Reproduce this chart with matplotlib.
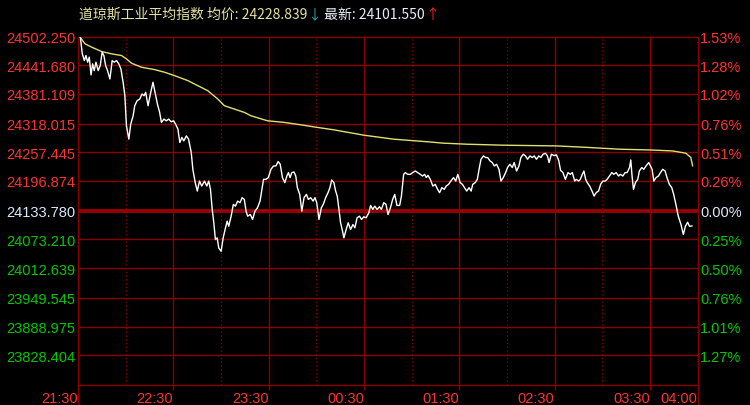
import numpy as np
import matplotlib
matplotlib.use('Agg')
import matplotlib.pyplot as plt

# ---------------- data ----------------
prev_close = 24133.780
avg_last = 24228.839
last_price = 24101.550

# minutes after 21:30
minutes = [1.5, 2.7, 4.0, 5.0, 6.1, 7.1, 8.2, 9.2, 10.2, 11.3, 12.7, 14.0, 15.2, 16.3, 17.4, 18.6,
           20.1, 21.5, 22.8, 24.3, 25.7, 27.0, 28.4, 29.5, 30.5, 32.0, 33.2, 34.7, 35.7, 37.2, 38.9,
           40.3, 41.6, 42.6, 44.1, 45.8, 47.2, 48.3, 50.0, 51.4, 52.5, 54.1, 55.6, 57.1, 58.7, 60.2,
           61.4, 62.9, 64.1, 65.4, 66.6, 68.2, 69.6, 71.3, 72.3, 73.8, 75.1, 76.5, 77.9, 79.6, 81.1,
           82.3, 83.4, 84.5, 85.5, 86.5, 87.6, 88.6, 90.1, 91.4, 92.6, 93.9, 94.9, 96.4, 97.8, 99.1,
           100.5, 102.0, 103.3, 104.7, 105.8, 106.8, 108.5, 109.9, 111.4, 113.0, 114.6, 115.6, 116.8,
           118.3, 119.8, 121.5, 123.1, 124.6, 126.0, 127.3, 128.7, 130.2, 131.5, 132.5, 133.5, 134.6,
           136.0, 137.1, 138.1, 139.6, 140.9, 142.3, 143.8, 145.0, 146.5, 148.0, 149.2, 150.3, 151.7,
           153.2, 154.4, 155.9, 157.4, 158.6, 159.7, 161.1, 162.2, 163.2, 164.3, 165.3, 166.3, 167.4,
           168.8, 170.1, 171.6, 173.1, 174.3, 175.7, 177.2, 178.5, 179.9, 181.4, 183.1, 184.2, 185.6,
           186.8, 188.3, 189.8, 191.0, 192.5, 193.9, 195.2, 196.7, 198.1, 199.4, 200.8, 202.5, 203.6,
           205.0, 206.1, 207.5, 209.2, 210.7, 212.4, 213.8, 215.5, 216.9, 218.2, 219.3, 220.3, 221.8,
           223.4, 224.9, 226.4, 227.6, 229.1, 230.6, 231.8, 233.3, 234.7, 236.4, 237.8, 239.1, 240.6,
           242.0, 243.3, 244.7, 246.2, 247.5, 248.5, 250.0, 251.4, 252.7, 253.7, 255.2, 256.6, 257.9,
           259.4, 260.8, 262.1, 263.5, 265.0, 266.3, 267.7, 269.2, 270.4, 271.9, 273.4, 274.6, 276.1,
           277.6, 278.8, 280.3, 281.7, 283.0, 284.5, 285.9, 287.2, 288.6, 290.1, 291.4, 292.8, 294.3,
           295.5, 296.6, 298.0, 299.7, 301.2, 302.6, 303.8, 305.3, 306.8, 308.5, 309.9, 311.2, 312.7,
           313.7, 315.2, 316.2, 317.5, 318.5, 319.6, 320.6, 322.1, 323.6, 324.9, 326.2, 327.7, 329.0,
           330.4, 331.9, 333.1, 334.6, 336.1, 337.3, 338.8, 340.3, 341.5, 343.0, 344.4, 345.7, 347.2,
           348.0, 348.8, 349.7, 350.9, 352.4, 353.4, 354.9, 356.2, 357.6, 359.3, 360.4, 361.4, 362.5,
           363.9, 365.4, 366.7, 368.1, 369.6, 370.8, 372.3, 373.8, 375.0, 376.4, 377.9, 379.6, 381.1,
           382.4, 383.8, 384.9, 386.5]

price = [24500.0, 24465.6, 24451.3, 24462.0, 24447.9, 24458.6, 24421.0, 24444.3, 24430.1, 24447.9,
         24430.1, 24440.7, 24469.2, 24462.0, 24440.7, 24430.1, 24412.5, 24451.3, 24447.9, 24451.3,
         24444.3, 24433.7, 24405.5, 24377.0, 24313.4, 24285.1, 24317.0, 24334.6, 24355.8, 24366.4,
         24370.0, 24380.7, 24377.0, 24384.3, 24355.8, 24384.3, 24405.5, 24387.7, 24359.4, 24341.8,
         24320.6, 24327.6, 24324.0, 24327.6, 24321.9, 24324.0, 24317.0, 24306.4, 24278.1, 24288.8,
         24281.5, 24292.1, 24285.1, 24256.9, 24221.5, 24193.2, 24175.4, 24196.6, 24186.0, 24196.6,
         24186.0, 24196.6, 24179.0, 24136.5, 24108.3, 24072.9, 24076.5, 24055.3, 24048.0, 24076.5,
         24094.1, 24111.7, 24101.1, 24122.3, 24147.2, 24143.6, 24154.2, 24150.8, 24161.4, 24157.8,
         24132.9, 24122.3, 24125.9, 24115.3, 24132.9, 24140.2, 24154.2, 24175.4, 24200.2, 24200.2,
         24203.8, 24221.5, 24228.5, 24228.5, 24237.8, 24232.1, 24203.8, 24193.2, 24207.2, 24214.5,
         24203.8, 24214.5, 24215.7, 24207.2, 24182.6, 24168.4, 24132.9, 24161.4, 24168.4, 24157.8,
         24161.4, 24154.2, 24161.4, 24150.8, 24115.3, 24140.2, 24147.2, 24161.4, 24172.0, 24182.6,
         24198.8, 24193.2, 24175.4, 24164.8, 24136.5, 24108.3, 24094.1, 24076.5, 24094.1, 24108.3,
         24094.1, 24104.7, 24097.7, 24118.9, 24122.3, 24115.3, 24121.0, 24118.9, 24129.5, 24145.0,
         24136.5, 24143.6, 24136.5, 24142.3, 24136.5, 24150.8, 24147.2, 24125.9, 24140.2, 24157.8,
         24168.4, 24145.0, 24145.0, 24164.8, 24210.8, 24214.5, 24210.8, 24210.8, 24214.5, 24217.8,
         24214.5, 24210.8, 24207.2, 24210.8, 24203.8, 24208.7, 24200.2, 24186.0, 24189.6, 24179.0,
         24172.0, 24182.6, 24179.0, 24186.0, 24189.6, 24196.6, 24203.8, 24196.6, 24210.8, 24193.2,
         24189.6, 24182.6, 24175.4, 24182.6, 24175.4, 24189.6, 24193.2, 24200.2, 24225.1, 24242.7,
         24249.7, 24246.3, 24246.3, 24239.1, 24235.7, 24228.5, 24232.1, 24221.5, 24196.6, 24203.8,
         24214.5, 24225.1, 24232.1, 24225.1, 24235.7, 24217.8, 24228.5, 24246.3, 24253.3, 24249.7,
         24242.7, 24249.7, 24246.3, 24249.7, 24242.7, 24249.7, 24246.3, 24253.3, 24255.4, 24249.7,
         24235.7, 24253.3, 24250.4, 24252.0, 24240.3, 24219.3, 24214.5, 24200.2, 24214.5, 24210.8,
         24214.5, 24196.6, 24200.2, 24196.6, 24200.2, 24210.8, 24217.8, 24200.2, 24193.2, 24186.0,
         24175.4, 24164.8, 24172.0, 24175.4, 24189.6, 24196.6, 24196.6, 24200.2, 24207.2, 24214.5,
         24210.8, 24214.5, 24207.2, 24210.8, 24207.2, 24214.5, 24214.5, 24225.1, 24241.2, 24207.2,
         24179.0, 24193.2, 24200.2, 24217.8, 24225.1, 24221.5, 24228.5, 24235.7, 24228.5, 24221.5,
         24196.6, 24203.8, 24207.2, 24214.5, 24221.5, 24217.8, 24203.8, 24189.6, 24182.6, 24168.4,
         24147.2, 24122.3, 24104.7, 24083.5, 24101.1, 24109.6, 24101.1, 24101.55]

avg_minutes = [1.5, 4.4, 8.6, 14.9, 21.1, 27.4, 30.5, 33.7, 39.9, 48.3, 54.5, 60.8, 69.2, 75.4,
               81.7, 88.0, 92.2, 98.4, 104.7, 108.9, 119.3, 129.8, 140.3, 150.7, 161.1, 179.9,
               198.8, 217.6, 230.1, 244.7, 267.7, 301.2, 322.1, 340.9, 359.7, 374.3, 382.7,
               385.8, 386.9]
avg_price = [24500.0, 24486.8, 24479.8, 24470.4, 24465.6, 24462.0, 24454.9, 24445.8, 24437.3,
             24432.2, 24426.7, 24419.5, 24408.9, 24398.3, 24387.7, 24370.0, 24355.8, 24348.8,
             24341.8, 24334.6, 24324.0, 24320.6, 24315.5, 24310.0, 24304.9, 24293.6, 24285.1,
             24280.3, 24276.7, 24274.5, 24272.4, 24270.9, 24267.5, 24263.9, 24262.4, 24260.3,
             24255.4, 24246.3, 24228.8]

price_ticks = [24502.250, 24441.680, 24381.109, 24318.015, 24257.445, 24196.874, 24133.780,
               24073.210, 24012.639, 23949.545, 23888.975, 23828.404]
y_bottom = 23765.310

time_ticks = [0, 60, 120, 180, 240, 300, 360, 390]
time_labels = ['21:30', '22:30', '23:30', '00:30', '01:30', '02:30', '03:30', '04:00']
half_hours = [30, 90, 150, 210, 270, 330]

# ---------------- style ----------------
grid_red = '#8a0000'
up_red = '#ff3232'
down_green = '#00c800'
flat_white = '#dce8ff'
num_font = 'Liberation Sans'
cjk = ['Noto Sans CJK SC', 'DejaVu Sans']

fig = plt.figure(figsize=(7.5, 4.06), dpi=100, facecolor='black')
ax = fig.add_axes([78 / 750, 20 / 406, 619.5 / 750, 348.5 / 406])
ax.set_facecolor('black')
ax.set_xlim(0, 390)
ax.set_ylim(y_bottom, price_ticks[0])

for s in ax.spines.values():
    s.set_color(grid_red)
    s.set_linewidth(1.0)

# grid
for p in price_ticks[1:]:
    if p == prev_close:
        ax.axhline(p, color='#960000', lw=2.8, zorder=1)
    else:
        ax.axhline(p, color=grid_red, lw=1.0, zorder=1)
for t in time_ticks[1:-1]:
    ax.axvline(t, color=grid_red, lw=1.0, zorder=1)
for t in half_hours:
    ax.axvline(t, color=grid_red, lw=0.9, ls=(0, (1, 2)), zorder=1)

# side lines run down to the bottom edge
ax.plot([0, 0], [-20 / 348.5, 0], transform=ax.transAxes, color=grid_red, lw=1.0, clip_on=False)
ax.plot([1, 1], [-20 / 348.5, 0], transform=ax.transAxes, color=grid_red, lw=1.0, clip_on=False)

# lines
ax.plot(avg_minutes, avg_price, color='#e0e070', lw=1.0, zorder=3)
ax.plot(minutes, price, color='white', lw=1.0, zorder=4)

# left axis
ax.set_yticks(price_ticks)
ax.set_yticklabels(['%.3f' % p for p in price_ticks], fontfamily=num_font, fontsize=10.5)
ax.tick_params(axis='y', length=0, pad=2)


def level_color(p):
    if abs(p - prev_close) < 1e-6:
        return flat_white
    return up_red if p > prev_close else down_green


for lbl, p in zip(ax.get_yticklabels(), price_ticks):
    lbl.set_color(level_color(p))

# right axis: percent change
ax2 = ax.twinx()
ax2.set_ylim(ax.get_ylim())
ax2.set_yticks(price_ticks)
pct = ['%.2f%%' % (abs(p - prev_close) / prev_close * 100) for p in price_ticks]
ax2.set_yticklabels(pct, fontfamily=num_font, fontsize=10.5)
ax2.tick_params(axis='y', length=0, pad=2)
for lbl, p in zip(ax2.get_yticklabels(), price_ticks):
    lbl.set_color(level_color(p))
for s in ax2.spines.values():
    s.set_visible(False)

# time axis
ax.set_xticks(time_ticks)
ax.set_xticklabels(time_labels, fontfamily=num_font, fontsize=10.5, color=up_red, ha='right')
ax.tick_params(axis='x', length=3.5, width=1.0, color=grid_red, pad=1)

# title pieces in different colours
t1 = fig.text(79 / 750, 1 - 15 / 406, '道琼斯工业平均指数 均价: %.3f' % avg_last,
              color='#e2e2a4', fontsize=10, family=cjk, va='center', ha='left')
t2 = ax.annotate('↓', xy=(1, 0), xycoords=t1, va='bottom', ha='left',
                 color='#2aa8b0', fontsize=10, family=cjk)
t3 = ax.annotate(' 最新: %.3f' % last_price, xy=(1, 0), xycoords=t2, va='bottom', ha='left',
                 color='#e8eefa', fontsize=10, family=cjk)
t4 = ax.annotate('↑', xy=(1, 0), xycoords=t3, va='bottom', ha='left',
                 color='#ff2020', fontsize=10, family=cjk)

fig.savefig('out.png', dpi=100, facecolor='black')
